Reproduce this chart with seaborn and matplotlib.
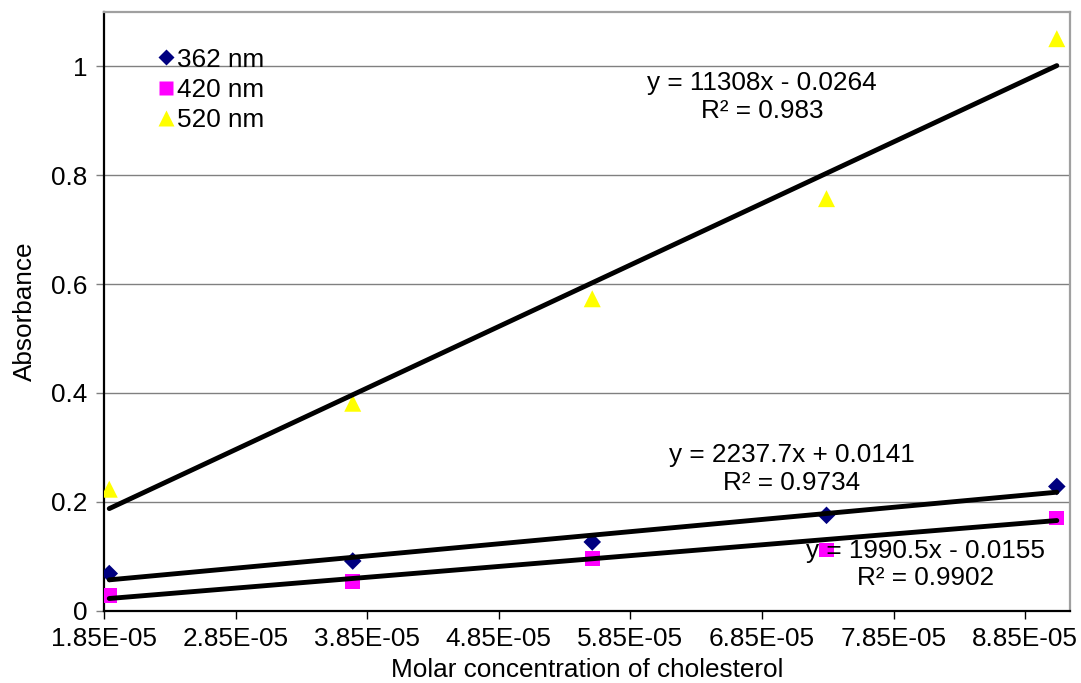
import numpy as np
import pandas as pd
import seaborn as sns
import matplotlib
matplotlib.use("Agg")
import matplotlib.pyplot as plt
from matplotlib.lines import Line2D

# Molar concentration of cholesterol (M)
conc = [1.89e-05, 3.74e-05, 5.56e-05, 7.34e-05, 9.09e-05]

# Absorbance readings at three wavelengths
abs_362 = [0.068, 0.091, 0.126, 0.175, 0.228]
abs_420 = [0.027, 0.053, 0.096, 0.111, 0.170]
abs_520 = [0.223, 0.381, 0.573, 0.757, 1.051]

series_names = ["362 nm", "420 nm", "520 nm"]

# Linear trendlines: slope, intercept, R²
fit_362 = (2237.7, 0.0141, 0.9734)
fit_420 = (1990.5, -0.0155, 0.9902)
fit_520 = (11308.0, -0.0264, 0.983)

x_ticks = [1.85e-05, 2.85e-05, 3.85e-05, 4.85e-05, 5.85e-05, 6.85e-05, 7.85e-05, 8.85e-05]
y_ticks = [0, 0.2, 0.4, 0.6, 0.8, 1.0]

sns.set_theme(style="white")
plt.rcParams["font.family"] = ["Liberation Sans", "DejaVu Sans"]
for key in ("text.color", "axes.labelcolor", "xtick.color", "ytick.color"):
    plt.rcParams[key] = "black"
FS = 18.8

df = pd.DataFrame({
    "conc": conc * 3,
    "absorbance": abs_362 + abs_420 + abs_520,
    "series": np.repeat(series_names, len(conc)),
})

fig = plt.figure(figsize=(10.81, 6.83), dpi=100)
ax = fig.add_axes([0.0962, 0.1061, 0.8936, 0.8763])

styles = {
    "362 nm": dict(marker="D", color="#000080", size=80),
    "420 nm": dict(marker="s", color="#FF00FF", size=112),
    "520 nm": dict(marker="^", color="#FFFF00", size=150),
}
for name in series_names:
    st = styles[name]
    sns.scatterplot(data=df[df["series"] == name], x="conc", y="absorbance",
                    marker=st["marker"], color=st["color"], s=st["size"],
                    edgecolor="none", linewidth=0, ax=ax, zorder=3)

# Trendlines across the measured range
xs = np.array([min(conc), max(conc)])
for slope, icpt, _ in (fit_362, fit_420, fit_520):
    ax.plot(xs, slope * xs + icpt, color="black", lw=3.5,
            solid_capstyle="round", zorder=4)

def eq_text(slope, icpt, r2):
    sign = "+" if icpt >= 0 else "-"
    return f"y = {slope:g}x {sign} {abs(icpt):g}\nR² = {r2:g}"

ax.text(0.681, 0.858, eq_text(*fit_520), transform=ax.transAxes,
        ha="center", va="center", fontsize=FS, linespacing=1.2, zorder=5)
ax.text(0.712, 0.237, eq_text(*fit_362), transform=ax.transAxes,
        ha="center", va="center", fontsize=FS, linespacing=1.2, zorder=5)
ax.text(0.850, 0.077, eq_text(*fit_420), transform=ax.transAxes,
        ha="center", va="center", fontsize=FS, linespacing=1.2, zorder=5)

ax.set_xlim(1.85e-05, 9.19e-05)
ax.set_ylim(0, 1.1)
ax.set_xticks(x_ticks)
ax.set_xticklabels([f"{v:.2E}" for v in x_ticks], fontsize=FS)
ax.set_yticks(y_ticks)
ax.set_yticklabels([f"{v:g}" for v in y_ticks], fontsize=FS)
ax.yaxis.grid(True, color="#808080", lw=1.0)
ax.xaxis.grid(False)
ax.set_axisbelow(True)

ax.tick_params(axis="both", direction="out", length=6, width=1,
               bottom=True, left=True, pad=6)
ax.tick_params(axis="y", color="#808080")
ax.tick_params(axis="x", color="black")
for side in ("left", "bottom"):
    ax.spines[side].set_color("black")
    ax.spines[side].set_linewidth(1.6)
for side in ("top", "right"):
    ax.spines[side].set_color("#a0a0a0")
    ax.spines[side].set_linewidth(1.6)

ax.set_xlabel("Molar concentration of cholesterol", fontsize=FS, labelpad=5)
ax.set_ylabel("Absorbance", fontsize=FS, labelpad=10)

handles = [
    Line2D([], [], ls="none", marker="D", color="#000080", markersize=8, mec="none"),
    Line2D([], [], ls="none", marker="s", color="#FF00FF", markersize=10.5, mec="none"),
    Line2D([], [], ls="none", marker="^", color="#FFFF00", markersize=12, mec="none"),
]
ax.legend(handles, series_names, loc="upper left", bbox_to_anchor=(0.045, 0.958),
          frameon=False, fontsize=FS, handlelength=0.6, handletextpad=0.15,
          labelspacing=0.24, borderaxespad=0)

fig.savefig("out.png", dpi=100)
